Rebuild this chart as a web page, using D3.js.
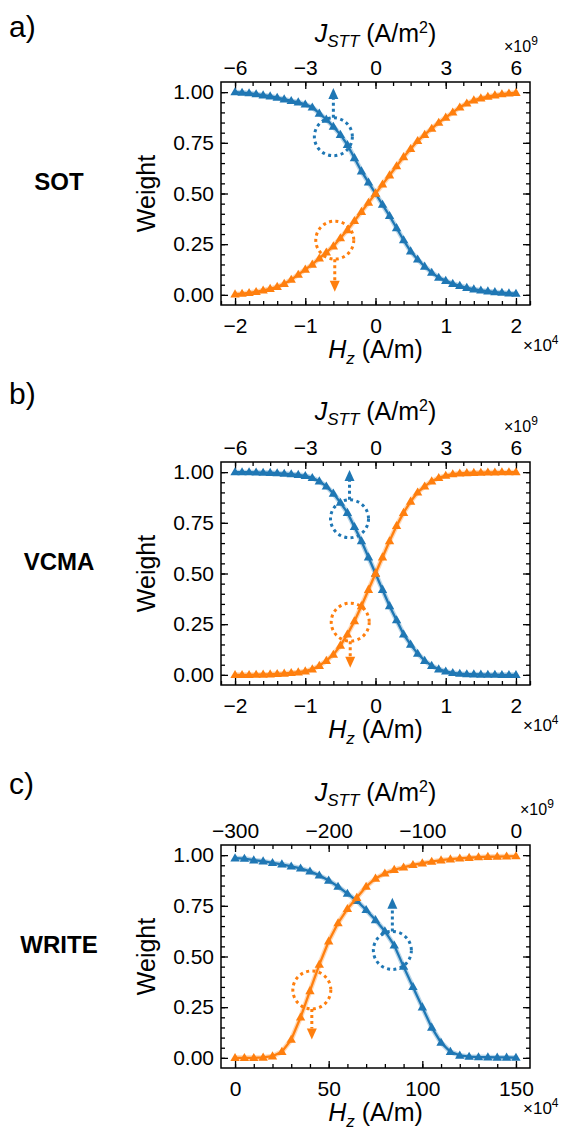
<!DOCTYPE html>
<html>
<head>
<meta charset="utf-8">
<script src="https://cdn.jsdelivr.net/npm/d3@7"></script>
<style>
  body { margin: 0; background: #fff; }
  text { font-family: "Liberation Sans", Arial, sans-serif; fill: #000; }
</style>
</head>
<body>
<script>
// field grids (x1e4 A/m)
var hSotVcma = [-2.0, -1.9, -1.8, -1.7, -1.6, -1.5, -1.4, -1.3, -1.2, -1.1, -1.0, -0.9, -0.8, -0.7, -0.6, -0.5, -0.4, -0.3, -0.2, -0.1,
                0.0, 0.1, 0.2, 0.3, 0.4, 0.5, 0.6, 0.7, 0.8, 0.9, 1.0, 1.1, 1.2, 1.3, 1.4, 1.5, 1.6, 1.7, 1.8, 1.9, 2.0];
var hWrite = [0, 5, 10, 15, 20, 25, 30, 35, 40, 45, 50, 55, 60, 65, 70, 75, 80, 85, 90, 95, 100,
              105, 110, 115, 120, 125, 130, 135, 140, 145, 150];

// weights
var sotBlue = [1.00, 0.998, 0.995, 0.99, 0.985, 0.98, 0.973, 0.965, 0.957, 0.95, 0.94, 0.925, 0.895, 0.865, 0.83, 0.79, 0.74, 0.675, 0.61, 0.555,
               0.50, 0.445, 0.39, 0.33, 0.27, 0.215, 0.175, 0.14, 0.11, 0.085, 0.07, 0.055, 0.045, 0.035, 0.028, 0.022, 0.018, 0.014, 0.011, 0.008, 0.006];
var sotOrange = [0.003, 0.006, 0.01, 0.015, 0.022, 0.03, 0.04, 0.055, 0.075, 0.10, 0.125, 0.15, 0.18, 0.21, 0.24, 0.28, 0.32, 0.365, 0.41, 0.455,
                 0.50, 0.545, 0.59, 0.635, 0.68, 0.72, 0.76, 0.79, 0.82, 0.85, 0.875, 0.90, 0.925, 0.945, 0.96, 0.97, 0.978, 0.985, 0.99, 0.994, 0.997];
var vcmaBlue = [1.00, 1.00, 1.00, 0.999, 0.998, 0.997, 0.995, 0.993, 0.99, 0.987, 0.982, 0.972, 0.955, 0.93, 0.895, 0.85, 0.80, 0.73, 0.66, 0.58,
                0.50, 0.42, 0.34, 0.27, 0.20, 0.15, 0.105, 0.07, 0.045, 0.028, 0.017, 0.01, 0.006, 0.004, 0.003, 0.002, 0.001, 0.001, 0.0, 0.0, 0.0];
var vcmaOrange = [0.0, 0.0, 0.0, 0.001, 0.002, 0.003, 0.005, 0.007, 0.01, 0.013, 0.018, 0.028, 0.045, 0.07, 0.10, 0.145, 0.20, 0.265, 0.34, 0.42,
                  0.50, 0.58, 0.66, 0.735, 0.80, 0.855, 0.90, 0.93, 0.955, 0.972, 0.983, 0.99, 0.994, 0.996, 0.997, 0.998, 0.999, 0.999, 1.0, 1.0, 1.0];
var writeBlue = [0.985, 0.983, 0.975, 0.97, 0.962, 0.955, 0.945, 0.935, 0.92, 0.90, 0.875, 0.845, 0.81, 0.775, 0.73, 0.68, 0.625, 0.555, 0.45, 0.35, 0.25,
                 0.15, 0.075, 0.03, 0.012, 0.006, 0.004, 0.003, 0.002, 0.002, 0.001];
var writeOrange = [0.0, 0.0, 0.0, 0.002, 0.008, 0.03, 0.09, 0.20, 0.33, 0.46, 0.575, 0.665, 0.735, 0.79, 0.845, 0.885, 0.91, 0.928, 0.94, 0.952, 0.96,
                   0.968, 0.975, 0.98, 0.984, 0.987, 0.99, 0.992, 0.993, 0.994, 0.995];

var weightTicks = [0, 0.25, 0.5, 0.75, 1.0];
var sotTopTicks = [-6, -3, 0, 3, 6];
var writeTopTicks = [-300, -200, -100, 0];

var blue = "#1f77b4", orange = "#ff7f0e";
var W = 574, H = 1134;
var left = 221, right = 530, ph = 223;

var svg = d3.select("body").append("svg").attr("width", W).attr("height", H);

var panels = [
  { letter: "a)", name: "SOT", top: 82, h: hSotVcma, b: sotBlue, o: sotOrange,
    hDom: [-2.2, 2.2], hTicks: [-2, -1, 0, 1, 2], hMinor: 0.2,
    jDom: [-6.6, 6.6], jTicks: sotTopTicks, jMinor: 0.75, jOff: 40, letOff: 45, expX: 504,
    rings: [{ c: blue, h: -0.6, w: 0.78, tip: 1.02 }, { c: orange, h: -0.58, w: 0.27, tip: 0.015 }] },
  { letter: "b)", name: "VCMA", top: 462, h: hSotVcma, b: vcmaBlue, o: vcmaOrange,
    hDom: [-2.2, 2.2], hTicks: [-2, -1, 0, 1, 2], hMinor: 0.2,
    jDom: [-6.6, 6.6], jTicks: sotTopTicks, jMinor: 0.75, jOff: 42, letOff: 58, expX: 504,
    rings: [{ c: blue, h: -0.37, w: 0.77, tip: 1.01 }, { c: orange, h: -0.36, w: 0.26, tip: 0.035 }] },
  { letter: "c)", name: "WRITE", top: 845, h: hWrite, b: writeBlue, o: writeOrange,
    hDom: [-7.5, 157.5], hTicks: [0, 50, 100, 150], hMinor: 10,
    jDom: [-315, 15], jTicks: writeTopTicks, jMinor: 20, jOff: 44, letOff: 51, expX: 520,
    rings: [{ c: blue, h: 84, w: 0.53, tip: 0.79 }, { c: orange, h: 41, w: 0.335, tip: 0.09 }] }
];

panels.forEach(function (p) {
  var g = svg.append("g");
  var bottom = p.top + ph;
  var x = d3.scaleLinear().domain(p.hDom).range([left, right]);
  var xj = d3.scaleLinear().domain(p.jDom).range([left, right]);
  var y = d3.scaleLinear().domain([-0.05, 1.05]).range([bottom, p.top]);

  function minors(dom, step) {
    var lo = Math.ceil(dom[0] / step - 1e-9), hi = Math.floor(dom[1] / step + 1e-9);
    return d3.range(lo, hi + 1).map(function (k) { return +(k * step).toFixed(6); });
  }

  // axes: ticks inward on all four sides
  var fmtInt = function (d) { return d3.format("d")(d); };
  g.append("g").attr("transform", "translate(0," + bottom + ")")
    .call(d3.axisBottom(x).tickValues(minors(p.hDom, p.hMinor)).tickSize(-4).tickFormat(""));
  g.append("g").attr("class", "lab").attr("transform", "translate(0," + bottom + ")")
    .call(d3.axisBottom(x).tickValues(p.hTicks).tickSize(-7).tickPadding(13).tickFormat(fmtInt));
  g.append("g").attr("transform", "translate(0," + p.top + ")")
    .call(d3.axisTop(xj).tickValues(minors(p.jDom, p.jMinor)).tickSize(-4).tickFormat(""));
  g.append("g").attr("class", "lab").attr("transform", "translate(0," + p.top + ")")
    .call(d3.axisTop(xj).tickValues(p.jTicks).tickSize(-7).tickPadding(7).tickFormat(fmtInt));
  g.append("g").attr("transform", "translate(" + left + ",0)")
    .call(d3.axisLeft(y).tickValues(minors([0, 1], 0.05)).tickSize(-4).tickFormat(""));
  g.append("g").attr("class", "lab").attr("transform", "translate(" + left + ",0)")
    .call(d3.axisLeft(y).tickValues(weightTicks).tickSize(-7).tickPadding(7).tickFormat(d3.format(".2f")));
  g.append("g").attr("transform", "translate(" + right + ",0)")
    .call(d3.axisRight(y).tickValues(minors([0, 1], 0.05)).tickSize(-4).tickFormat(""));
  g.append("g").attr("transform", "translate(" + right + ",0)")
    .call(d3.axisRight(y).tickValues(weightTicks).tickSize(-7).tickFormat(""));

  g.selectAll(".domain").remove();
  g.selectAll(".tick line").attr("stroke", "#000").attr("stroke-width", 1.3);
  g.selectAll(".lab text").attr("font-size", 21).attr("font-family", "Liberation Sans, Arial, sans-serif").attr("fill", "#000");

  // curves
  [[p.b, blue], [p.o, orange]].forEach(function (s) {
    var pts = p.h.map(function (hv, i) { return [hv, s[0][i]]; });
    var line = d3.line().x(function (d) { return x(d[0]); }).y(function (d) { return y(d[1]); });
    g.append("path").attr("d", line(pts)).attr("fill", "none").attr("stroke", s[1])
      .attr("stroke-opacity", 0.3).attr("stroke-width", 5);
    g.append("path").attr("d", line(pts)).attr("fill", "none").attr("stroke", s[1]).attr("stroke-width", 2.3);
    g.selectAll(null).data(pts).enter().append("path")
      .attr("d", d3.symbol(d3.symbolTriangle, 38))
      .attr("transform", function (d) { return "translate(" + x(d[0]) + "," + (y(d[1]) + 0.5) + ")"; })
      .attr("fill", s[1]);
  });

  // dotted rings with arrows
  p.rings.forEach(function (r) {
    var cx = x(r.h), cy = y(r.w), rad = 19, ty = y(r.tip);
    var up = ty < cy, head = 11;
    g.append("circle").attr("cx", cx).attr("cy", cy).attr("r", rad)
      .attr("fill", "none").attr("stroke", r.c).attr("stroke-width", 3).attr("stroke-dasharray", "3,3.4");
    var y0 = up ? cy - rad : cy + rad, y1 = up ? ty + head : ty - head;
    g.append("line").attr("x1", cx).attr("x2", cx).attr("y1", y0).attr("y2", y1)
      .attr("stroke", r.c).attr("stroke-width", 3).attr("stroke-dasharray", "3,3");
    g.append("path").attr("fill", r.c)
      .attr("d", "M" + cx + "," + ty + "L" + (cx - 5) + "," + y1 + "L" + (cx + 5) + "," + y1 + "Z");
  });

  // frame
  g.append("rect").attr("x", left).attr("y", p.top).attr("width", right - left).attr("height", ph)
    .attr("fill", "none").attr("stroke", "#000").attr("stroke-width", 1.5);

  // labels
  g.append("text").attr("x", 9).attr("y", p.top - p.letOff).attr("font-size", 30).text(p.letter);
  g.append("text").attr("x", 59).attr("y", (p.top + bottom) / 2 - 4).attr("text-anchor", "middle")
    .attr("font-size", 24).attr("font-weight", "bold").text(p.name);
  g.append("text").attr("transform", "translate(155," + (p.top + bottom) / 2 + ") rotate(-90)")
    .attr("text-anchor", "middle").attr("font-size", 25).text("Weight");

  var jl = g.append("text").attr("x", (left + right) / 2).attr("y", p.top - p.jOff)
    .attr("text-anchor", "middle").attr("font-size", 25);
  jl.append("tspan").attr("font-style", "italic").text("J");
  jl.append("tspan").attr("font-style", "italic").attr("font-size", 17).attr("dy", 5).text("STT");
  jl.append("tspan").attr("dy", -5).text(" (A/m");
  jl.append("tspan").attr("font-size", 16).attr("dy", -9).text("2");
  jl.append("tspan").attr("dy", 9).text(")");

  var hl = g.append("text").attr("x", (left + right) / 2).attr("y", bottom + 53)
    .attr("text-anchor", "middle").attr("font-size", 25);
  hl.append("tspan").attr("font-style", "italic").text("H");
  hl.append("tspan").attr("font-style", "italic").attr("font-size", 17).attr("dy", 6).text("z");
  hl.append("tspan").attr("dy", -6).text(" (A/m)");

  var e9 = g.append("text").attr("x", p.expX).attr("y", p.top - 30).attr("font-size", 16);
  e9.append("tspan").text("×10");
  e9.append("tspan").attr("font-size", 12).attr("dy", -7).text("9");
  var e4 = g.append("text").attr("x", 523).attr("y", bottom + 46).attr("font-size", 17);
  e4.append("tspan").text("×10");
  e4.append("tspan").attr("font-size", 12).attr("dy", -7).text("4");
});
</script>
</body>
</html>
